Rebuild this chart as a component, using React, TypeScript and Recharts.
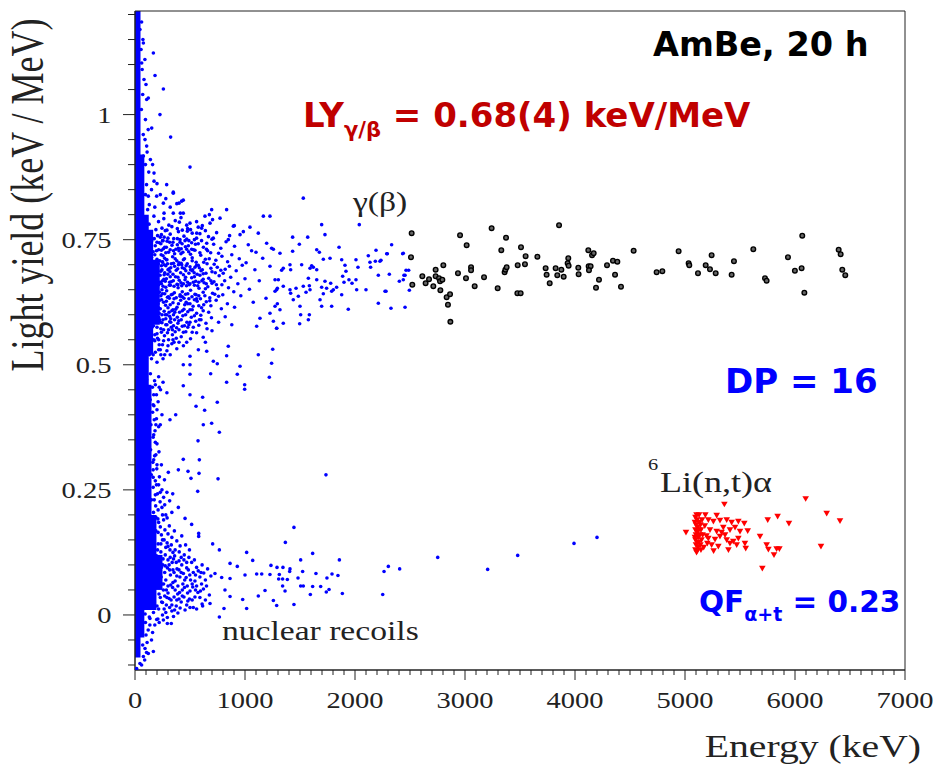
import React from 'react'
import { ScatterChart, Scatter, XAxis, YAxis, ReferenceArea } from 'recharts'

type Pt = [number, number]

// axis ticks: energy in keV, light yield in keV/MeV
const xTicks = [0, 100, 200, 300, 400, 500, 600, 700, 800, 900, 1000, 1100, 1200, 1300, 1400, 1500, 1600, 1700, 1800, 1900,
  2000, 2100, 2200, 2300, 2400, 2500, 2600, 2700, 2800, 2900, 3000, 3100, 3200, 3300, 3400, 3500, 3600, 3700, 3800, 3900,
  4000, 4100, 4200, 4300, 4400, 4500, 4600, 4700, 4800, 4900, 5000, 5100, 5200, 5300, 5400, 5500, 5600, 5700, 5800, 5900,
  6000, 6100, 6200, 6300, 6400, 6500, 6600, 6700, 6800, 6900, 7000]
const yTicks = [-0.1, -0.05, 0, 0.05, 0.1, 0.15, 0.2, 0.25, 0.3, 0.35, 0.4, 0.45, 0.5, 0.55, 0.6, 0.65, 0.7, 0.75, 0.8,
  0.85, 0.9, 0.95, 1, 1.05, 1.1, 1.15, 1.2]

// saturated low-energy region, drawn as filled blocks
const denseCores = [
  { x1: 0, x2: 50, y1: -0.085, y2: 1.207 },
  { x1: 0, x2: 85, y1: -0.045, y2: 0.92 },
  { x1: 0, x2: 125, y1: 0.03, y2: 0.8 },
  { x1: 0, x2: 165, y1: 0.52, y2: 0.77 },
  { x1: 0, x2: 225, y1: 0.58, y2: 0.71 },
  { x1: 0, x2: 150, y1: 0.2, y2: 0.46 },
  { x1: 0, x2: 195, y1: 0.01, y2: 0.2 },
  { x1: 0, x2: 250, y1: 0.05, y2: 0.12 },
]

const blueUpper: Pt[] = [
  [45, 1.17], [61, 1.103], [76, 1.143], [82, 1.07], [106, 1.03], [121, 1.033], [91, 0.95], [106, 0.937], [76, 0.917],
  [152, 0.973], [167, 1.123], [182, 1.078], [258, 1.051], [227, 1.0], [324, 0.955], [173, 0.883], [173, 0.867],
  [288, 0.86], [348, 0.845], [424, 0.827], [500, 0.895], [121, 0.837], [197, 0.837], [258, 0.823], [60, 1.185],
  [72, 1.15], [55, 1.13], [90, 1.11], [65, 1.09], [100, 1.06], [70, 1.04], [58, 1.01], [95, 0.99], [120, 0.97],
  [75, 0.96], [110, 0.925], [140, 0.91], [95, 0.9], [125, 0.885], [160, 0.9], [105, 0.86], [150, 0.85], [200, 0.862],
  [230, 0.84], [180, 0.815], [130, 0.82], [280, 0.832], [320, 0.815], [380, 0.822], [95, 0.84], [115, 0.81], [1530, 0.833],
]

const blueGammaEdge: Pt[] = [
  [697, 0.81], [833, 0.81], [348, 0.803], [439, 0.803], [636, 0.797], [773, 0.793], [894, 0.777], [1045, 0.775],
  [1167, 0.797], [1227, 0.797], [348, 0.843], [439, 0.829], [400, 0.823], [264, 0.803], [412, 0.803], [676, 0.8],
  [500, 0.783], [403, 0.785], [606, 0.773], [682, 0.783], [903, 0.778], [1121, 0.763], [1197, 0.743], [1258, 0.731],
  [955, 0.76], [848, 0.75], [712, 0.753], [561, 0.763], [476, 0.767], [409, 0.75], [652, 0.743], [1030, 0.74],
  [1100, 0.725], [1161, 0.713], [1227, 0.697], [1273, 0.67], [1288, 0.65], [1191, 0.633], [1136, 0.593], [1227, 0.603],
  [1288, 0.573], [1106, 0.577], [1121, 0.52], [1252, 0.531], [1242, 0.503], [955, 0.497], [848, 0.537], [833, 0.518],
  [712, 0.507], [748, 0.502], [652, 0.527], [576, 0.53], [500, 0.517], [439, 0.5],
]

const blueGammaCore: Pt[] = [
  [95, 0.79], [128, 0.781], [172, 0.797], [214, 0.786], [262, 0.792], [308, 0.779], [366, 0.788], [418, 0.794], [478, 0.772],
  [560, 0.786], [612, 0.778], [705, 0.79],
  [100, 0.765], [140, 0.758], [190, 0.77], [230, 0.755], [275, 0.768], [320, 0.761], [352, 0.752], [395, 0.766], [445, 0.757],
  [505, 0.77], [540, 0.75], [590, 0.762], [668, 0.756], [742, 0.764], [860, 0.758], [985, 0.766],
  [92, 0.742], [118, 0.735], [152, 0.748], [184, 0.738], [222, 0.744], [258, 0.732], [292, 0.747], [336, 0.739], [372, 0.731],
  [410, 0.745], [458, 0.736], [490, 0.748], [532, 0.73], [575, 0.742], [622, 0.735], [660, 0.728], [715, 0.741], [780, 0.733],
  [828, 0.746], [905, 0.737], [1060, 0.728],
  [98, 0.722], [132, 0.715], [165, 0.726], [200, 0.711], [238, 0.72], [270, 0.713], [305, 0.725], [342, 0.716], [380, 0.708],
  [418, 0.722], [450, 0.712], [488, 0.726], [520, 0.714], [556, 0.705], [598, 0.719], [640, 0.711], [688, 0.724], [735, 0.709],
  [790, 0.717], [842, 0.706], [880, 0.72], [948, 0.712], [1010, 0.704],
  [90, 0.7], [115, 0.693], [148, 0.705], [180, 0.696], [212, 0.702], [245, 0.69], [280, 0.698], [318, 0.686], [350, 0.703],
  [388, 0.692], [425, 0.7], [462, 0.688], [500, 0.696], [538, 0.684], [575, 0.699], [612, 0.69], [655, 0.702], [700, 0.686],
  [748, 0.695], [802, 0.683], [858, 0.697], [920, 0.688], [975, 0.699], [1090, 0.69],
  [102, 0.678], [135, 0.672], [168, 0.682], [205, 0.668], [228, 0.679], [262, 0.671], [298, 0.681], [330, 0.666], [368, 0.676],
  [402, 0.669], [440, 0.68], [478, 0.665], [515, 0.674], [552, 0.667], [590, 0.679], [628, 0.664], [670, 0.673], [718, 0.666],
  [765, 0.678], [815, 0.668], [870, 0.675], [935, 0.662], [1000, 0.672], [1130, 0.668],
  [95, 0.655], [125, 0.648], [158, 0.66], [192, 0.651], [222, 0.645], [255, 0.657], [288, 0.648], [322, 0.659], [358, 0.644],
  [392, 0.654], [430, 0.646], [468, 0.658], [505, 0.649], [545, 0.641], [582, 0.653], [620, 0.645], [662, 0.656], [705, 0.643],
  [752, 0.652], [798, 0.64], [850, 0.654], [898, 0.646], [962, 0.638], [1040, 0.651],
  [105, 0.632], [140, 0.625], [175, 0.636], [210, 0.622], [242, 0.63], [278, 0.619], [312, 0.633], [345, 0.624], [382, 0.615],
  [415, 0.629], [452, 0.62], [490, 0.632], [528, 0.617], [565, 0.627], [605, 0.614], [648, 0.626], [690, 0.618], [738, 0.629],
  [785, 0.612], [840, 0.622], [905, 0.615], [1075, 0.625],
  [92, 0.605], [122, 0.598], [155, 0.608], [188, 0.594], [220, 0.603], [255, 0.59], [290, 0.6], [325, 0.592], [362, 0.605],
  [398, 0.588], [435, 0.598], [472, 0.585], [512, 0.595], [552, 0.587], [598, 0.599], [645, 0.583], [695, 0.594], [760, 0.585],
  [820, 0.596], [880, 0.58],
  [100, 0.575], [135, 0.566], [168, 0.578], [200, 0.562], [235, 0.572], [268, 0.558], [305, 0.57], [340, 0.56], [378, 0.574],
  [420, 0.556], [462, 0.566], [505, 0.552], [560, 0.564], [620, 0.555], [700, 0.568],
  [110, 0.545], [145, 0.535], [180, 0.548], [215, 0.53], [250, 0.54], [290, 0.528], [335, 0.542], [380, 0.532], [440, 0.538],
  [500, 0.5], [640, 0.545],
  [135, 0.74], [150, 0.715], [165, 0.69], [180, 0.665], [195, 0.64], [210, 0.615], [225, 0.59], [240, 0.565], [255, 0.512],
  [140, 0.6], [155, 0.575], [170, 0.55], [185, 0.525], [200, 0.505], [145, 0.665], [160, 0.64], [175, 0.615], [190, 0.59],
  [205, 0.553], [220, 0.54], [235, 0.52], [150, 0.512], [165, 0.52], [130, 0.56], [130, 0.69], [130, 0.64], [130, 0.52],
  [270, 0.735], [285, 0.71], [300, 0.69], [315, 0.665], [330, 0.64], [345, 0.61], [360, 0.59], [375, 0.553], [250, 0.705],
  [265, 0.68], [280, 0.655], [295, 0.635], [310, 0.605], [325, 0.585], [340, 0.57], [355, 0.545], [230, 0.665], [245, 0.65],
  [260, 0.625], [275, 0.6], [290, 0.58], [305, 0.55], [320, 0.52], [240, 0.76], [255, 0.748], [200, 0.745], [215, 0.73],
  [180, 0.72], [195, 0.7], [400, 0.728], [420, 0.703], [440, 0.662], [460, 0.641], [480, 0.622], [500, 0.61], [390, 0.66],
  [410, 0.637], [430, 0.608], [450, 0.578], [470, 0.545], [520, 0.688], [540, 0.659], [560, 0.632], [580, 0.618], [600, 0.59],
  [620, 0.671], [640, 0.652], [680, 0.628], [700, 0.663], [730, 0.684], [760, 0.637], [790, 0.66], [820, 0.691],
  [245, 0.773], [290, 0.769], [335, 0.776], [385, 0.772], [430, 0.769], [470, 0.779], [520, 0.763], [575, 0.775], [640, 0.768],
  [250, 0.748], [300, 0.753], [345, 0.745], [385, 0.752], [428, 0.742], [470, 0.751], [515, 0.744], [560, 0.753], [605, 0.748],
  [700, 0.751], [240, 0.729], [280, 0.724], [320, 0.73], [360, 0.722], [395, 0.733], [435, 0.725], [470, 0.731], [505, 0.721],
  [545, 0.729], [590, 0.724], [650, 0.731], [760, 0.723], [250, 0.706], [290, 0.71], [330, 0.702], [365, 0.712], [400, 0.704],
  [440, 0.71], [475, 0.702], [520, 0.708], [560, 0.699], [625, 0.705], [675, 0.712], [720, 0.701], [235, 0.687], [270, 0.684],
  [310, 0.692], [345, 0.681], [375, 0.689], [415, 0.684], [450, 0.692], [490, 0.683], [525, 0.69], [565, 0.681], [600, 0.688],
  [645, 0.683], [690, 0.693], [780, 0.689], [240, 0.662], [275, 0.667], [312, 0.659], [348, 0.668], [382, 0.661], [418, 0.664],
  [455, 0.67], [492, 0.66], [530, 0.665], [570, 0.658], [608, 0.668], [648, 0.662], [690, 0.668], [740, 0.66], [235, 0.638],
  [270, 0.642], [305, 0.636], [340, 0.641], [375, 0.634], [410, 0.64], [445, 0.633], [480, 0.642], [518, 0.636], [555, 0.64],
  [595, 0.632], [635, 0.638], [680, 0.634], [725, 0.641], [230, 0.612], [265, 0.607], [300, 0.614], [335, 0.608], [370, 0.611],
  [405, 0.605], [445, 0.611], [480, 0.606], [520, 0.61], [560, 0.603], [620, 0.608], [670, 0.605], [245, 0.584], [280, 0.58],
  [315, 0.586], [350, 0.578], [390, 0.583], [430, 0.577], [490, 0.58], [530, 0.575], [580, 0.579], [655, 0.572],
]

const blueGammaFill: Pt[] = [
  [175, 0.752], [205, 0.758], [235, 0.742], [265, 0.755], [195, 0.728], [225, 0.708], [255, 0.718], [285, 0.735], [315, 0.745],
  [350, 0.728], [385, 0.74], [420, 0.732], [455, 0.748], [485, 0.738], [515, 0.731], [550, 0.741], [175, 0.7], [205, 0.69],
  [240, 0.698], [265, 0.7], [295, 0.702], [325, 0.694], [360, 0.697], [395, 0.7], [430, 0.694], [465, 0.698], [505, 0.69],
  [545, 0.695], [585, 0.694], [190, 0.678], [215, 0.66], [250, 0.668], [285, 0.672], [320, 0.676], [355, 0.657], [390, 0.675],
  [425, 0.658], [460, 0.675], [500, 0.662], [540, 0.676], [580, 0.665], [620, 0.682], [185, 0.63], [220, 0.628], [250, 0.642],
  [285, 0.627], [320, 0.62], [355, 0.632], [395, 0.622], [430, 0.636], [465, 0.625], [500, 0.622], [540, 0.63], [580, 0.638],
  [625, 0.62], [190, 0.61], [215, 0.595], [245, 0.6], [280, 0.592], [315, 0.597], [350, 0.6], [385, 0.595], [420, 0.59],
  [460, 0.6], [500, 0.585], [540, 0.598], [585, 0.59], [200, 0.575], [230, 0.585], [260, 0.57], [295, 0.564], [330, 0.575],
  [365, 0.566], [400, 0.57], [440, 0.565], [480, 0.575], [520, 0.565], [180, 0.56], [215, 0.55], [260, 0.548], [300, 0.538],
  [345, 0.55], [400, 0.545], [230, 0.53], [270, 0.52],
]

const blueGammaTail: Pt[] = [
  [1697, 0.78], [2039, 0.78], [1727, 0.76], [1570, 0.755], [1433, 0.755], [1855, 0.735], [1494, 0.741], [1652, 0.73],
  [1676, 0.725], [1433, 0.727], [1318, 0.723], [1242, 0.733], [1712, 0.711], [1773, 0.713], [1879, 0.71], [2009, 0.71],
  [2121, 0.718], [2191, 0.729], [2294, 0.722], [2333, 0.74], [2439, 0.723], [2236, 0.709], [2136, 0.705], [2142, 0.695],
  [2185, 0.707], [2464, 0.689], [2445, 0.679], [2312, 0.681], [2212, 0.679], [2403, 0.667], [2282, 0.647], [2494, 0.649],
  [2212, 0.623], [2327, 0.613], [2455, 0.615], [2100, 0.65], [2009, 0.67], [2027, 0.695], [1909, 0.699], [1918, 0.687],
  [1888, 0.677], [1900, 0.665], [1945, 0.67], [1973, 0.663], [2015, 0.65], [1939, 0.611], [1879, 0.64], [1833, 0.655],
  [1803, 0.65], [1779, 0.663], [1742, 0.653], [1712, 0.642], [1682, 0.63], [1697, 0.617], [1788, 0.617], [1788, 0.647],
  [1727, 0.667], [1652, 0.67], [1585, 0.658], [1591, 0.65], [1530, 0.657], [1555, 0.645], [1464, 0.653], [1409, 0.65],
  [1415, 0.643], [1439, 0.63], [1485, 0.637], [1273, 0.647], [1294, 0.653], [1348, 0.657], [1348, 0.693], [1333, 0.689],
  [1303, 0.67], [1409, 0.7], [1415, 0.69], [1515, 0.7], [1591, 0.693], [1606, 0.698], [1621, 0.695], [1652, 0.69],
  [1576, 0.673], [1294, 0.622], [1273, 0.617], [1318, 0.61], [1348, 0.583], [1500, 0.617], [1506, 0.6], [1585, 0.6],
  [1576, 0.59], [1497, 0.582], [1288, 0.573], [1258, 0.587], [1697, 0.655], [2288, 0.722], [2433, 0.722], [2227, 0.707],
  [2488, 0.689], [2455, 0.679], [2439, 0.67], [2273, 0.647],
]

const blueLow: Pt[] = [
  [70, 0.478], [105, 0.47], [140, 0.482], [178, 0.468], [215, 0.476], [255, 0.465],
  [85, 0.452], [120, 0.446], [158, 0.455], [195, 0.44], [232, 0.45], [290, 0.444],
  [102, 0.42], [138, 0.43], [172, 0.418], [210, 0.426],
  [88, 0.402], [122, 0.396], [160, 0.405], [195, 0.392], [245, 0.4],
  [108, 0.37], [145, 0.38], [182, 0.368], [215, 0.376],
  [90, 0.352], [128, 0.346], [165, 0.355], [200, 0.342],
  [105, 0.32], [142, 0.33], [178, 0.318], [218, 0.326],
  [88, 0.302], [125, 0.296], [162, 0.305], [198, 0.292], [240, 0.3],
  [110, 0.27], [148, 0.28], [185, 0.268], [222, 0.276], [268, 0.27],
  [90, 0.252], [128, 0.246], [165, 0.255], [205, 0.242], [245, 0.25], [290, 0.245],
  [112, 0.22], [150, 0.23], [188, 0.218], [228, 0.226], [270, 0.22], [315, 0.228],
  [130, 0.196], [168, 0.205], [208, 0.192], [250, 0.2], [292, 0.194], [335, 0.205],
  [152, 0.18], [190, 0.168], [230, 0.176], [272, 0.17], [312, 0.178], [358, 0.168],
  [170, 0.155], [210, 0.142], [250, 0.15], [292, 0.144], [335, 0.155], [380, 0.148], [425, 0.158],
  [155, 0.13], [195, 0.118], [235, 0.126], [275, 0.12], [318, 0.13], [360, 0.118], [402, 0.126], [448, 0.12], [495, 0.13],
  [172, 0.105], [212, 0.092], [252, 0.1], [295, 0.094], [338, 0.105], [382, 0.092], [425, 0.1], [470, 0.094], [515, 0.105],
  [560, 0.095], [610, 0.1], [660, 0.092],
  [198, 0.068], [238, 0.076], [280, 0.07], [322, 0.08], [365, 0.068], [408, 0.076], [452, 0.07], [498, 0.08], [545, 0.068],
  [590, 0.076], [640, 0.07], [690, 0.078],
  [138, 0.046], [178, 0.055], [218, 0.042], [258, 0.05], [300, 0.044], [342, 0.055], [388, 0.042], [430, 0.05], [478, 0.044],
  [525, 0.056], [572, 0.045], [622, 0.052], [676, 0.04],
  [85, 0.028], [122, 0.02], [160, 0.03], [200, 0.018], [242, 0.026], [285, 0.02], [328, 0.03], [375, 0.018], [420, 0.026],
  [470, 0.02], [520, 0.03], [610, 0.022],
  [92, 0.002], [130, -0.004], [168, 0.005], [208, -0.008], [250, 0.0], [294, -0.005], [335, 0.008], [390, 0.004], [455, 0.01],
  [560, 0.012],
  [215, 0.185], [260, 0.19], [300, 0.162], [240, 0.16], [280, 0.135], [330, 0.14], [365, 0.13], [410, 0.138], [460, 0.14],
  [205, 0.13], [255, 0.112], [300, 0.11], [350, 0.112], [400, 0.108], [445, 0.11], [490, 0.115], [540, 0.11], [230, 0.088],
  [270, 0.085], [315, 0.09], [355, 0.085], [400, 0.09], [440, 0.083], [485, 0.09], [530, 0.085], [575, 0.088], [625, 0.084],
  [215, 0.06], [260, 0.062], [300, 0.058], [345, 0.065], [390, 0.058], [435, 0.062], [475, 0.058], [520, 0.062], [560, 0.058],
  [605, 0.062], [650, 0.058], [230, 0.035], [270, 0.038], [310, 0.033], [355, 0.036], [400, 0.032], [445, 0.036], [495, 0.032],
  [545, 0.036], [590, 0.035], [640, 0.03], [215, 0.012], [265, 0.012], [315, 0.015], [360, 0.01], [410, 0.014], [500, 0.015],
  [170, 0.44], [200, 0.41], [175, 0.39], [230, 0.38], [185, 0.345], [170, 0.31], [200, 0.3], [165, 0.275], [195, 0.26],
  [230, 0.245], [175, 0.23], [210, 0.21], [245, 0.215], [260, 0.235], [190, 0.195], [280, 0.2],
]

const blueLowFill: Pt[] = [
  [210, 0.165], [235, 0.142], [265, 0.15], [300, 0.137], [320, 0.115], [345, 0.125], [375, 0.105], [420, 0.115], [470, 0.105],
  [210, 0.1], [240, 0.095], [275, 0.098], [310, 0.1], [345, 0.09], [380, 0.078], [420, 0.085], [465, 0.075], [505, 0.07],
  [550, 0.08], [600, 0.085], [245, 0.062], [285, 0.05], [325, 0.06], [365, 0.05], [405, 0.045], [450, 0.055], [500, 0.048],
  [550, 0.05], [595, 0.048], [250, 0.025], [290, 0.035], [335, 0.02], [380, 0.03], [430, 0.038], [480, 0.028], [530, 0.015],
  [280, 0.005], [350, -0.003], [185, 0.24], [215, 0.26], [165, 0.29], [190, 0.32], [170, 0.36], [190, 0.38], [165, 0.42],
  [185, 0.46], [220, 0.455],
]

const blueSparse: Pt[] = [
  [500, 0.481], [688, 0.482], [930, 0.481], [1221, 0.475], [833, 0.465], [997, 0.46], [997, 0.451], [439, 0.458], [500, 0.44],
  [615, 0.435], [748, 0.425], [555, 0.417], [633, 0.409], [697, 0.383], [621, 0.38], [767, 0.365], [370, 0.4], [318, 0.39],
  [573, 0.348], [439, 0.311], [585, 0.31], [394, 0.29], [482, 0.287], [582, 0.283], [509, 0.273], [755, 0.272], [570, 0.247],
  [303, 0.285], [343, 0.242], [394, 0.215], [455, 0.193], [515, 0.181], [579, 0.163], [579, 0.157], [706, 0.142], [767, 0.13],
  [1015, 0.125], [1070, 0.109], [864, 0.103], [930, 0.097], [727, 0.083], [788, 0.075], [864, 0.073], [1000, 0.08],
  [1106, 0.082], [1152, 0.082], [818, 0.05], [864, 0.037], [979, 0.031], [1015, 0.013], [1121, 0.038], [1182, 0.049],
  [767, -0.004], [809, 0.013], [615, 0.018], [682, 0.023],
  [258, -0.01], [294, -0.017], [330, -0.017], [197, -0.009], [136, -0.007], [167, -0.073], [121, -0.077], [76, -0.083],
  [91, -0.067], [45, -0.097], [15, -0.107], [60, -0.1], [100, -0.04], [120, -0.03], [70, -0.06], [150, -0.05], [180, -0.02],
  [110, -0.055], [88, -0.09], [135, -0.02], [160, -0.035], [220, -0.015], [95, -0.015], [105, -0.075],
]

const blueNuclearTail: Pt[] = [
  [1736, 0.28], [1445, 0.175], [1367, 0.145], [1615, 0.123], [1506, 0.11], [1858, 0.11], [2752, 0.115], [3479, 0.119],
  [3991, 0.143], [4200, 0.155], [3206, 0.091], [2406, 0.092], [2303, 0.097], [2264, 0.087], [2252, 0.041],
  [1236, 0.099], [1291, 0.095], [1345, 0.095], [1409, 0.092], [1406, 0.087], [1227, 0.081], [1312, 0.081], [1306, 0.072],
  [1342, 0.072], [1385, 0.071], [1524, 0.087], [1482, 0.074], [1645, 0.083], [1791, 0.082], [1845, 0.079], [1745, 0.074],
  [1342, 0.058], [1506, 0.058], [1530, 0.058], [1615, 0.057], [1688, 0.057], [1364, 0.048], [1764, 0.051], [1739, 0.046],
  [1594, 0.041], [1885, 0.043], [1258, 0.029], [1288, 0.019], [1445, 0.021],
]

// gamma events above 2.5 MeV (black)
const gammaHighE: Pt[] = [
  [2515, 0.763], [2509, 0.715], [2521, 0.66], [2612, 0.677], [2642, 0.663], [2673, 0.671], [2712, 0.657], [2733, 0.69],
  [2733, 0.677], [2764, 0.673], [2773, 0.667], [2794, 0.67], [2776, 0.649], [2803, 0.699], [2833, 0.635], [2864, 0.641],
  [2845, 0.62], [2867, 0.586], [2936, 0.683], [2955, 0.759], [3009, 0.673], [3015, 0.739], [3055, 0.695], [3055, 0.689],
  [3088, 0.657], [3173, 0.675], [3242, 0.773], [3297, 0.653], [3330, 0.729], [3360, 0.685], [3367, 0.69], [3379, 0.695],
  [3373, 0.754], [3476, 0.643], [3506, 0.643], [3479, 0.699], [3509, 0.735], [3545, 0.701], [3551, 0.717], [3658, 0.716],
  [3733, 0.693], [3742, 0.68], [3770, 0.663], [3824, 0.693], [3839, 0.679], [3876, 0.69], [3897, 0.676], [3855, 0.779],
  [3933, 0.703], [3939, 0.713], [3942, 0.698], [4030, 0.694], [4033, 0.681], [4121, 0.729], [4155, 0.719], [4170, 0.723],
  [4124, 0.697], [4142, 0.697], [4127, 0.689], [4191, 0.654], [4218, 0.67], [4291, 0.699], [4345, 0.708], [4385, 0.706],
  [4364, 0.68], [4418, 0.656], [4533, 0.728], [4742, 0.685], [4794, 0.687], [4942, 0.727], [5033, 0.703], [5039, 0.699],
  [5118, 0.683], [5188, 0.699], [5227, 0.691], [5242, 0.719], [5279, 0.683], [5424, 0.68], [5445, 0.707], [5621, 0.731],
  [5727, 0.673], [5742, 0.668], [5936, 0.715], [5999, 0.688], [6060, 0.693], [6066, 0.758], [6085, 0.644], [6397, 0.73],
  [6415, 0.721], [6430, 0.69], [6457, 0.679],
]

// 6Li(n,t)alpha capture events (red)
const liCapture: Pt[] = [
  [5358, 0.221], [5009, 0.165], [5288, 0.199], [6097, 0.232], [6288, 0.203], [6409, 0.188], [5752, 0.19], [5842, 0.197],
  [5945, 0.183], [5682, 0.157], [5742, 0.14], [5758, 0.131], [5833, 0.132], [5858, 0.132], [5809, 0.12], [5703, 0.093],
  [6236, 0.137], [5539, 0.183], [5570, 0.168], [5545, 0.143], [5552, 0.133],
  [5212, 0.19], [5258, 0.187], [5318, 0.189], [5379, 0.19], [5424, 0.185], [5485, 0.187], [5227, 0.17], [5288, 0.167],
  [5348, 0.175], [5409, 0.17], [5455, 0.175], [5500, 0.167], [5212, 0.153], [5273, 0.151], [5318, 0.157], [5379, 0.15],
  [5439, 0.147], [5485, 0.153], [5242, 0.14], [5303, 0.137], [5203, 0.143], [5409, 0.143], [5470, 0.14], [5333, 0.165],
  [5364, 0.16], [5180, 0.178], [5195, 0.158], [5170, 0.135], [5260, 0.128], [5185, 0.2], [5395, 0.13],
  [5095, 0.195], [5110, 0.19], [5100, 0.18], [5115, 0.175], [5095, 0.17], [5110, 0.165], [5100, 0.16], [5120, 0.155],
  [5095, 0.15], [5110, 0.145], [5100, 0.14], [5118, 0.135], [5095, 0.13], [5110, 0.128], [5130, 0.185], [5135, 0.16],
  [5140, 0.14], [5128, 0.2], [5145, 0.17], [5150, 0.15], [5090, 0.185], [5090, 0.155], [5105, 0.2], [5125, 0.17],
  [5125, 0.145], [5105, 0.125], [5140, 0.18], [5145, 0.13], [5160, 0.16], [5155, 0.19],
]

const toObjs = (pts: Pt[]) => pts.map(([x, y]) => ({ x, y }))

const blueAll = toObjs([...blueUpper, ...blueGammaEdge, ...blueGammaCore, ...blueGammaFill, ...blueGammaTail,
  ...blueLow, ...blueLowFill, ...blueSparse, ...blueNuclearTail])

const serif = '"Liberation Serif", "Times New Roman", serif'
const sans = '"DejaVu Sans", Verdana, sans-serif'
const AXIS = '#222'

const BlueDot = (p: any) => <circle cx={p.cx} cy={p.cy} r={1.8} fill="#0000ff" />
const BlackRing = (p: any) => <circle cx={p.cx} cy={p.cy} r={2.3} fill="#666" stroke="#000" strokeWidth={1.4} />
const RedTri = (p: any) => (
  <polygon points={`${p.cx - 3.3},${p.cy - 2.6} ${p.cx + 3.3},${p.cy - 2.6} ${p.cx},${p.cy + 3}`} fill="#ff0000" />
)

const XTick = (props: any) => {
  const { x, y, payload } = props
  const major = payload.value % 1000 === 0
  return (
    <g>
      <line x1={x} y1={y} x2={x} y2={y + (major ? 10 : 5)} stroke={AXIS} />
      {major && (
        <text transform={`translate(${x},${y + 38}) scale(1.24,1)`} textAnchor="middle" fontFamily={serif} fontSize={23} fill={AXIS}>
          {payload.value}
        </text>
      )}
    </g>
  )
}

const YTick = (props: any) => {
  const { x, y, payload } = props
  const v = payload.value
  const major = Math.abs(v * 4 - Math.round(v * 4)) < 1e-6
  return (
    <g>
      <line x1={x - (major ? 12 : 7)} y1={y} x2={x} y2={y} stroke={AXIS} />
      {major && (
        <text transform={`translate(${x - 23.5},${y + 8}) scale(1.24,1)`} textAnchor="end" fontFamily={serif} fontSize={23} fill={AXIS}>
          {String(v)}
        </text>
      )}
    </g>
  )
}

export default function App() {
  return (
    <div style={{ position: 'absolute', left: 0, top: 0, width: 937, height: 767, background: '#fff' }}>
      <ScatterChart width={937} height={767} margin={{ top: 11, right: 32, bottom: 0, left: 0 }}>
        <XAxis type="number" dataKey="x" domain={[0, 7000]} ticks={xTicks} interval={0} tick={<XTick />}
          tickLine={false} tickSize={0} tickMargin={0} height={97} axisLine={{ stroke: AXIS }} allowDataOverflow />
        <YAxis type="number" dataKey="y" domain={[-0.11, 1.207]} ticks={yTicks} interval={0} tick={<YTick />}
          tickLine={false} tickSize={0} tickMargin={0} width={135} axisLine={{ stroke: AXIS }} allowDataOverflow />
        {denseCores.map((c, i) => (
          <ReferenceArea key={i} x1={c.x1} x2={c.x2} y1={c.y1} y2={c.y2} fill="#0000ff" fillOpacity={1} stroke="none" />
        ))}
        <Scatter data={blueAll} shape={BlueDot} isAnimationActive={false} />
        <Scatter data={toObjs(gammaHighE)} shape={BlackRing} isAnimationActive={false} />
        <Scatter data={toObjs(liCapture)} shape={RedTri} isAnimationActive={false} />
        <ReferenceArea x1={0} x2={7000} y1={-0.11} y2={1.207} fill="none" stroke={AXIS} strokeWidth={1} />
      </ScatterChart>
      <svg width={937} height={767} style={{ position: 'absolute', left: 0, top: 0, pointerEvents: 'none' }}>
        <text transform="translate(43,195) rotate(-90) scale(1,1.28)" textAnchor="middle" fontFamily={serif} fontSize={36} fill={AXIS}>
          Light yield (keV / MeV)
        </text>
        <text transform="translate(921,757) scale(1.24,1)" textAnchor="end" fontFamily={serif} fontSize={32} fill={AXIS}>
          Energy (keV)
        </text>
        <text x={653} y={56} fontFamily={sans} fontWeight="bold" fontSize={33.5} fill="#000">AmBe, 20 h</text>
        <text x={303} y={127} fontFamily={sans} fontWeight="bold" fontSize={34} fill="#c00000">
          LY<tspan fontSize={21} dy={10}>γ/β</tspan><tspan dy={-10}> = 0.68(4) keV/MeV</tspan>
        </text>
        <text x={725} y={393} fontFamily={sans} fontWeight="bold" fontSize={34} fill="#0000ff">DP = 16</text>
        <text x={699} y={612} fontFamily={sans} fontWeight="bold" fontSize={29.5} fill="#0000ff">
          QF<tspan fontSize={19} dy={9}>α+t</tspan><tspan dy={-9}> = 0.23</tspan>
        </text>
        <text transform="translate(353,211) scale(1.2,1)" fontFamily={serif} fontSize={28} fill={AXIS}>γ(β)</text>
        <text transform="translate(648,470) scale(1.2,1)" fontFamily={serif} fontSize={17} fill={AXIS}>6</text>
        <text transform="translate(660,492) scale(1.2,1)" fontFamily={serif} fontSize={30} fill={AXIS}>Li(n,t)α</text>
        <text transform="translate(222,640) scale(1.2,1)" fontFamily={serif} fontSize={28} fill={AXIS}>nuclear recoils</text>
      </svg>
    </div>
  )
}
